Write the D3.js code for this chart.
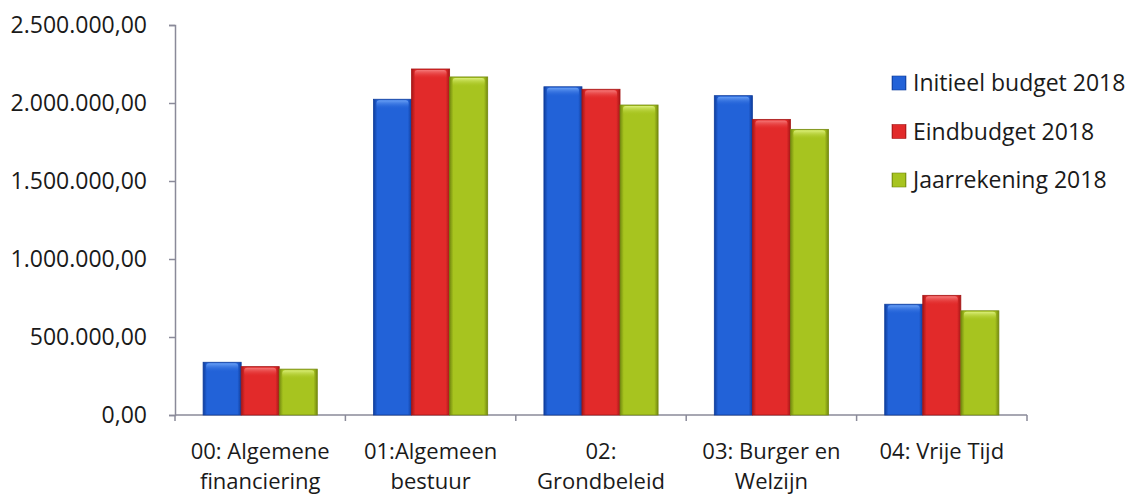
<!DOCTYPE html>
<html>
<head>
<meta charset="utf-8">
<script src="https://cdn.jsdelivr.net/npm/d3@7"></script>
<style>
  html, body { margin: 0; padding: 0; background: #fff; }
  svg { display: block; }
  text { font-family: "Open Sans", "Noto Sans", sans-serif; fill: #1a1a1a; }
</style>
</head>
<body>
<svg id="chart" width="1135" height="497"></svg>
<script>
// Beleidsdomeinen (categories), each label split over lines
const categories = [
  ["00: Algemene", "financiering"],
  ["01:Algemeen", "bestuur"],
  ["02:", "Grondbeleid"],
  ["03: Burger en", "Welzijn"],
  ["04: Vrije Tijd"]
];
const seriesNames = ["Initieel budget 2018", "Eindbudget 2018", "Jaarrekening 2018"];
const initieel   = [338000, 2024000, 2104000, 2047000, 710000];
const eindbudget = [310000, 2218000, 2088000, 1895000, 767000];
const jaarrekening = [294000, 2167000, 1987000, 1831000, 668000];
const yTicks = [0, 500000, 1000000, 1500000, 2000000, 2500000];

const series = [initieel, eindbudget, jaarrekening];
const colors = [
  { base: "#2262d8", dark: "#0f3d9c", light: "#6aa0f5" },
  { base: "#e22a2a", dark: "#a51616", light: "#f57a7a" },
  { base: "#a7c41f", dark: "#74890f", light: "#dcef7a" }
];

const svg = d3.select("#chart");
const plotLeft = 175, plotRight = 1027, plotTop = 25, plotBottom = 415;
const fontSize = 23;

const x = d3.scaleBand().domain(d3.range(categories.length)).range([plotLeft, plotRight]).paddingInner(0.33).paddingOuter(0.165);
const xSub = d3.scaleBand().domain(d3.range(series.length)).range([0, x.bandwidth()]);
const y = d3.scaleLinear().domain([0, 2500000]).range([plotBottom, plotTop]);

// Dutch number format: 2.500.000,00
const fmt = v => {
  const s = d3.format(",.2f")(v);
  return s.replace(/,/g, "#").replace(".", ",").replace(/#/g, ".");
};

// Gradients giving each bar its rounded, glossy look
const defs = svg.append("defs");
colors.forEach((c, i) => {
  const g = defs.append("linearGradient").attr("id", "grad" + i).attr("x1", 0).attr("x2", 1).attr("y1", 0).attr("y2", 0);
  g.append("stop").attr("offset", "0%").attr("stop-color", c.dark);
  g.append("stop").attr("offset", "10%").attr("stop-color", c.base);
  g.append("stop").attr("offset", "90%").attr("stop-color", c.base);
  g.append("stop").attr("offset", "100%").attr("stop-color", c.dark);
  const t = defs.append("linearGradient").attr("id", "top" + i).attr("x1", 0).attr("x2", 0).attr("y1", 0).attr("y2", 1);
  t.append("stop").attr("offset", "0%").attr("stop-color", c.light);
  t.append("stop").attr("offset", "100%").attr("stop-color", c.base).attr("stop-opacity", 0);
});

// Axes
const yAxis = d3.axisLeft(y).tickValues(yTicks).tickSize(6).tickFormat(fmt);
const gy = svg.append("g").attr("transform", `translate(${plotLeft},0)`).call(yAxis);
gy.select(".domain").attr("stroke", "#8a8a99").attr("stroke-width", 1.5);
gy.selectAll(".tick line").attr("stroke", "#8a8a99").attr("stroke-width", 1.5);
gy.selectAll(".tick text").attr("x", -28).attr("font-size", fontSize).attr("fill", "#1a1a1a")
  .attr("font-family", "'Open Sans', sans-serif");

// x axis line and category boundary ticks
const bounds = d3.range(categories.length + 1).map(i => plotLeft + i * (plotRight - plotLeft) / categories.length);
svg.append("line").attr("x1", plotLeft).attr("x2", plotRight).attr("y1", plotBottom).attr("y2", plotBottom)
  .attr("stroke", "#8a8a99").attr("stroke-width", 1.5);
svg.selectAll(".xtick").data(bounds).join("line")
  .attr("x1", d => d).attr("x2", d => d).attr("y1", plotBottom).attr("y2", plotBottom + 6)
  .attr("stroke", "#8a8a99").attr("stroke-width", 1.5);

// Bars
const groups = svg.selectAll(".cat").data(categories.map((c, i) => i)).join("g")
  .attr("transform", i => `translate(${x(i)},0)`);
series.forEach((vals, s) => {
  groups.each(function(i) {
    const g = d3.select(this);
    const bx = xSub(s), bw = xSub.bandwidth(), by = y(vals[i]), bh = plotBottom - by;
    g.append("rect").attr("x", bx).attr("y", by).attr("width", bw).attr("height", bh)
      .attr("fill", `url(#grad${s})`).attr("stroke", colors[s].dark).attr("stroke-width", 0.8);
    g.append("rect").attr("x", bx + 3).attr("y", by + 1).attr("width", bw - 6).attr("height", Math.min(9, bh - 1))
      .attr("rx", 3).attr("fill", `url(#top${s})`);
  });
});

// Category labels
svg.selectAll(".xlabel").data(categories).join("text")
  .attr("text-anchor", "middle").attr("font-size", 22)
  .attr("transform", (d, i) => `translate(${x(i) + x.bandwidth() / 2},459)`)
  .selectAll("tspan").data(d => d).join("tspan")
  .attr("x", 0).attr("dy", (d, j) => j === 0 ? 0 : 30).text(d => d);

// Legend
const legend = svg.append("g").attr("transform", "translate(892,91)");
seriesNames.forEach((n, s) => {
  const row = legend.append("g").attr("transform", `translate(0,${s * 48.5})`);
  row.append("rect").attr("x", 0).attr("y", -15).attr("width", 14).attr("height", 14)
    .attr("fill", `url(#grad${s})`).attr("stroke", colors[s].dark).attr("stroke-width", 0.6);
  row.append("text").attr("x", 21).attr("y", 0).attr("font-size", fontSize).text(n);
});
</script>
</body>
</html>
